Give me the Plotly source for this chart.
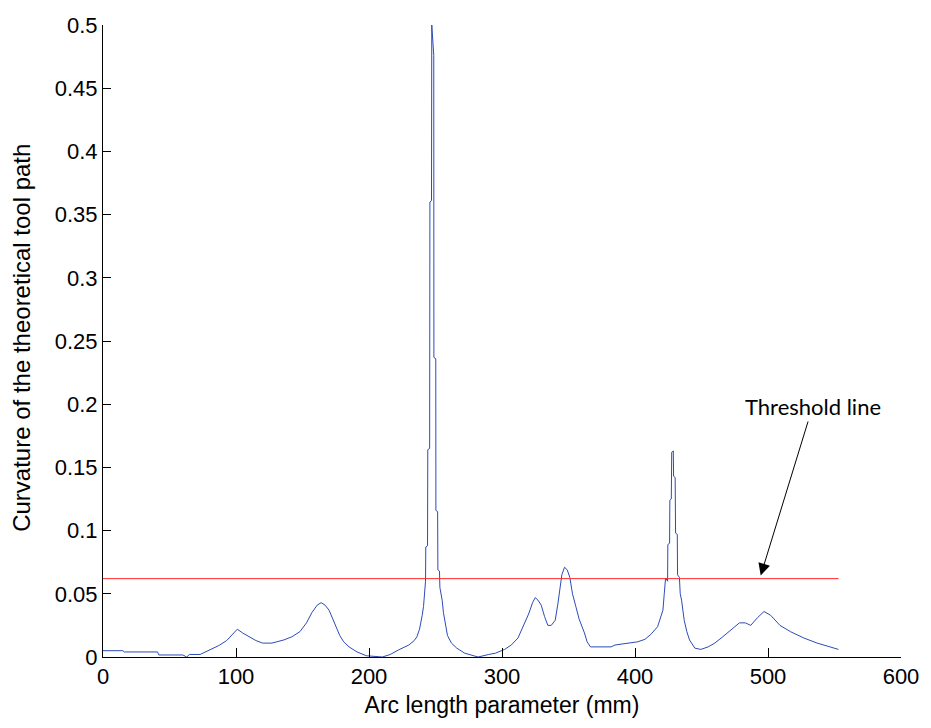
import plotly.graph_objects as go

# Curvature of the theoretical tool path sampled along the arc length (mm)
arc_length = [
    0, 15, 16, 41, 42, 60, 63, 65, 73, 80, 87, 93, 98, 101, 105, 110, 115, 120,
    127, 136, 142, 148, 153, 157, 161, 164, 167, 170, 174, 178, 181, 185, 191,
    198, 210, 216, 222, 230, 234, 236, 238, 239, 240, 241, 242, 242.5,
    242.7, 244.0, 244.2, 245.6, 245.8, 247.0, 247.2, 248.7, 248.8, 250.2, 250.3,
    251.6, 251.8, 253.0, 253.3, 255, 256, 257.5, 259, 262, 266, 272, 282, 290,
    295, 302, 307, 312, 316, 320, 323, 325, 327, 329.5, 332, 334.5, 337, 340,
    342, 343.5, 345, 347, 349, 351, 353, 355.5, 358, 362, 364, 366.5, 382, 385,
    397, 402, 407.5, 412, 417, 419, 421, 422, 423, 424.5, 424.7, 426.0, 426.2,
    427.3, 427.6, 428.8, 429.0, 430.2, 430.5, 431.8, 432.0, 433.4, 434, 435,
    437, 439, 441, 445, 449.5, 455, 460, 466, 472, 478.5, 483, 487, 492, 497,
    502, 509, 517, 527, 537, 547, 553,
]
curvature = [
    0.005, 0.005, 0.004, 0.004, 0.0016, 0.0016, 0.0, 0.002, 0.002, 0.0055,
    0.009, 0.013, 0.019, 0.022, 0.019, 0.016, 0.013, 0.011, 0.011, 0.0135,
    0.016, 0.02, 0.027, 0.035, 0.041, 0.043, 0.041, 0.037, 0.027, 0.017, 0.012,
    0.008, 0.004, 0.001, 0.0, 0.002, 0.0055, 0.0095, 0.013, 0.016, 0.022,
    0.027, 0.033, 0.04, 0.05, 0.06,
    0.087, 0.088, 0.164, 0.165, 0.36, 0.361, 0.5, 0.476, 0.237, 0.236, 0.116,
    0.115, 0.069, 0.068, 0.055, 0.045, 0.035, 0.024, 0.017, 0.011, 0.007,
    0.003, 0.0, 0.002, 0.003, 0.006, 0.0095, 0.015, 0.024, 0.034, 0.043,
    0.047, 0.045, 0.041, 0.032, 0.025, 0.025, 0.029, 0.042, 0.055, 0.065,
    0.071, 0.069, 0.063, 0.05, 0.04, 0.03, 0.019, 0.012, 0.008, 0.008, 0.0095,
    0.011, 0.012, 0.014, 0.018, 0.024, 0.03, 0.037, 0.05, 0.0625, 0.06,
    0.089, 0.09, 0.124, 0.125, 0.162, 0.163, 0.143, 0.142, 0.098, 0.097,
    0.065, 0.063, 0.05, 0.045, 0.029, 0.02, 0.0135, 0.007, 0.006, 0.008,
    0.011, 0.016, 0.021, 0.027, 0.027, 0.025, 0.031, 0.036, 0.033, 0.025,
    0.02, 0.015, 0.011, 0.008, 0.006,
]

threshold = 0.062
threshold_span = [0, 553]

x_ticks = [0, 100, 200, 300, 400, 500, 600]
y_ticks = [0, 0.05, 0.1, 0.15, 0.2, 0.25, 0.3, 0.35, 0.4, 0.45, 0.5]
y_tick_labels = ["0", "0.05", "0.1", "0.15", "0.2", "0.25", "0.3", "0.35",
                 "0.4", "0.45", "0.5"]

fig = go.Figure()
fig.add_trace(go.Scatter(
    x=arc_length, y=curvature, mode="lines",
    line=dict(color="#2b4cb8", width=1), showlegend=False,
))
fig.add_trace(go.Scatter(
    x=threshold_span, y=[threshold, threshold], mode="lines",
    line=dict(color="#ff2a2a", width=1), showlegend=False,
))

fig.add_annotation(
    x=494.5, y=0.0645, xref="x", yref="y",
    ax=52, ay=-169, axref="pixel", ayref="pixel",
    text="Threshold line", showarrow=True,
    arrowhead=2, arrowsize=2.4, arrowwidth=1, arrowcolor="black",
    font=dict(family="Lato", size=22, color="black"),
)

tick_font = dict(family="Liberation Sans, Arial", size=22, color="black")
title_font = dict(family="Liberation Sans, Arial", size=23, color="black")

# vertical axis title, placed beside the tick labels
fig.add_annotation(
    text="Curvature of the theoretical tool path",
    xref="paper", yref="paper", x=0, y=0.505,
    xanchor="center", yanchor="middle", xshift=-81,
    textangle=-90, showarrow=False,
    font=dict(family="Liberation Sans, Arial", size=24, color="black"),
)

fig.update_layout(
    width=931, height=728,
    margin=dict(l=103, r=27, t=25, b=71),
    paper_bgcolor="white", plot_bgcolor="white",
    font=tick_font,
    xaxis=dict(
        range=[0, 600], tickvals=x_ticks, ticks="inside", ticklen=9,
        tickcolor="black", showline=True, linecolor="black", linewidth=1,
        showgrid=False, zeroline=False, tickfont=tick_font,
        title=dict(text="Arc length parameter (mm)", font=title_font, standoff=8),
    ),
    yaxis=dict(
        range=[0, 0.5], tickvals=y_ticks, ticktext=y_tick_labels,
        ticks="inside", ticklen=8, tickcolor="black", showline=True,
        linecolor="black", linewidth=1, showgrid=False, zeroline=False,
        tickfont=tick_font,
    ),
)

fig.write_html("out.html")
